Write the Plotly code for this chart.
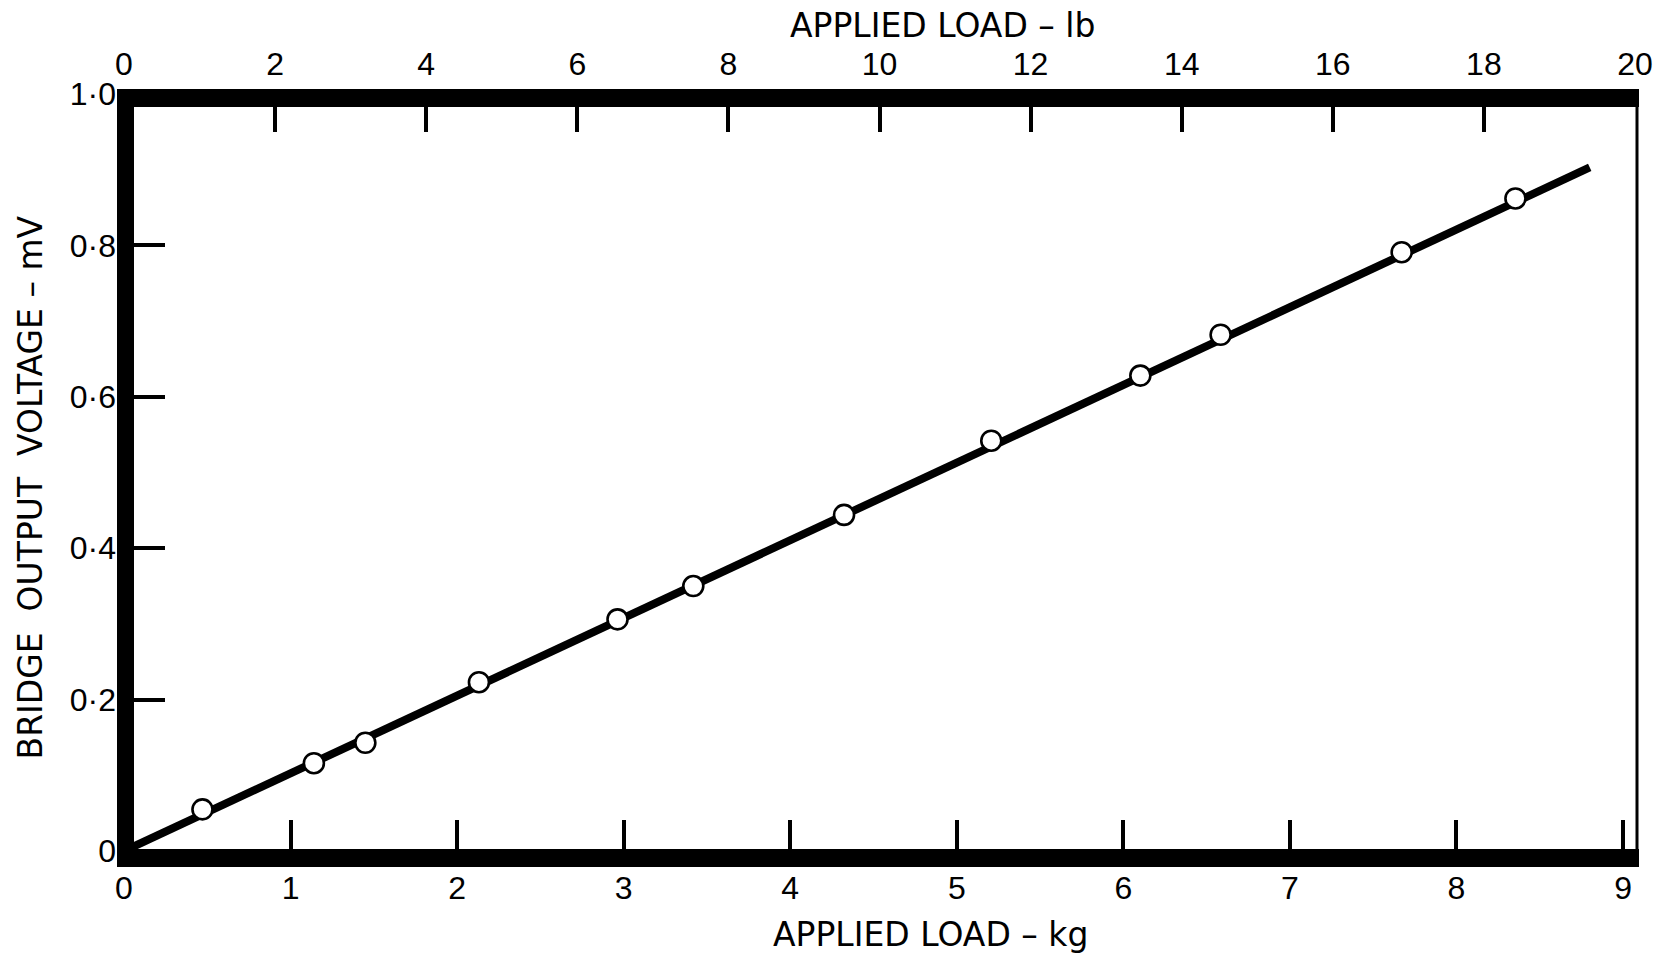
import plotly.graph_objects as go

# ---- data ----
load_kg = [0.471, 1.140, 1.449, 2.131, 2.963, 3.418, 4.323, 5.207, 6.102, 6.584, 7.671, 8.354]
voltage_mv = [0.055, 0.116, 0.143, 0.223, 0.306, 0.350, 0.444, 0.542, 0.628, 0.682, 0.791, 0.862]

fit_kg = [0.0, 8.80]
fit_mv = [0.0, 0.903]

kg_ticks = [0, 1, 2, 3, 4, 5, 6, 7, 8, 9]
lb_ticks = [0, 2, 4, 6, 8, 10, 12, 14, 16, 18, 20]
mv_ticks = [0, 0.2, 0.4, 0.6, 0.8, 1.0]
mv_tick_text = ["0", "0·2", "0·4", "0·6", "0·8", "1·0"]

LB_PER_KG = 2.20462
LB_MAX = 20

TICK_FONT = "Liberation Sans"
TITLE_FONT = "DejaVu Sans"
FIG_W, FIG_H = 1653, 957
ML, MR, MT, MB = 124, 18, 94, 106
PW = FIG_W - ML - MR
PH = FIG_H - MT - MB


def px(xp):
    return (xp - ML) / PW


def py(yp):
    return (FIG_H - MB - yp) / PH


fig = go.Figure()

fig.add_trace(go.Scatter(
    x=fit_kg, y=fit_mv, mode="lines",
    line=dict(color="black", width=8),
    hoverinfo="skip", showlegend=False,
))
fig.add_trace(go.Scatter(
    x=load_kg, y=voltage_mv, mode="markers",
    marker=dict(symbol="circle", size=20, color="white",
                line=dict(color="black", width=2.6)),
    showlegend=False,
))
# invisible trace to register the top (lb) axis
fig.add_trace(go.Scatter(
    x=[lb_ticks[0], lb_ticks[-1]], y=[None, None], xaxis="x2", yaxis="y",
    mode="markers", hoverinfo="skip", showlegend=False,
))

tickfont = dict(family=TICK_FONT, size=32, color="black")

fig.update_layout(
    width=FIG_W, height=FIG_H,
    margin=dict(l=ML, r=MR, t=MT, b=MB, pad=0),
    paper_bgcolor="white", plot_bgcolor="white",
    showlegend=False,
    xaxis=dict(
        range=[0, LB_MAX / LB_PER_KG], tickvals=kg_ticks,
        ticks="inside", ticklen=31, tickwidth=3.5, tickcolor="black",
        showgrid=False, zeroline=False, showline=False, automargin=False,
        tickfont=tickfont, ticklabelstandoff=15,
    ),
    xaxis2=dict(
        range=[0, LB_MAX], tickvals=lb_ticks, overlaying="x", side="top",
        anchor="y",
        ticks="inside", ticklen=38, tickwidth=3.5, tickcolor="black",
        showgrid=False, zeroline=False, showline=False, automargin=False,
        tickfont=tickfont, ticklabelstandoff=12, ticklabeloverflow="allow",
    ),
    yaxis=dict(
        range=[0, 1.0], tickvals=mv_ticks, ticktext=mv_tick_text,
        ticks="inside", ticklen=41, tickwidth=3.5, tickcolor="black",
        showgrid=False, zeroline=False, showline=False, automargin=False,
        tickfont=tickfont, ticklabelstandoff=7,
    ),
)

# frame: thick bars on left, top, bottom and thin right edge
bar_left, bar_right = 117, 1639
bar_top, bar_bottom = 89, 867
frame = [
    (bar_left, 134, bar_top, bar_bottom),      # left bar
    (bar_left, bar_right, bar_top, 107),       # top bar
    (bar_left, bar_right, 849, bar_bottom),    # bottom bar
]
for x0, x1, y0, y1 in frame:
    fig.add_shape(type="rect", xref="paper", yref="paper",
                  x0=px(x0), x1=px(x1), y0=py(y1), y1=py(y0),
                  fillcolor="black", line=dict(width=0), layer="above")
fig.add_shape(type="line", xref="paper", yref="paper",
              x0=px(1637), x1=px(1637), y0=py(bar_bottom), y1=py(bar_top),
              line=dict(color="black", width=3), layer="above")

titlefont = dict(family=TITLE_FONT, size=33, color="black")
fig.add_annotation(text="APPLIED LOAD – lb", xref="paper", yref="paper",
                   x=px(942), y=py(26), xanchor="center", yanchor="middle",
                   showarrow=False, font=titlefont)
fig.add_annotation(text="APPLIED LOAD – kg", xref="paper", yref="paper",
                   x=px(930), y=py(956), xanchor="center", yanchor="bottom",
                   showarrow=False, font=titlefont)
fig.add_annotation(text="BRIDGE\u00a0\u00a0OUTPUT\u00a0\u00a0VOLTAGE – mV",
                   xref="paper", yref="paper",
                   x=px(29.5), y=py(488), xanchor="center", yanchor="middle",
                   textangle=-90, showarrow=False, font=titlefont)

fig.write_html("out.html")
